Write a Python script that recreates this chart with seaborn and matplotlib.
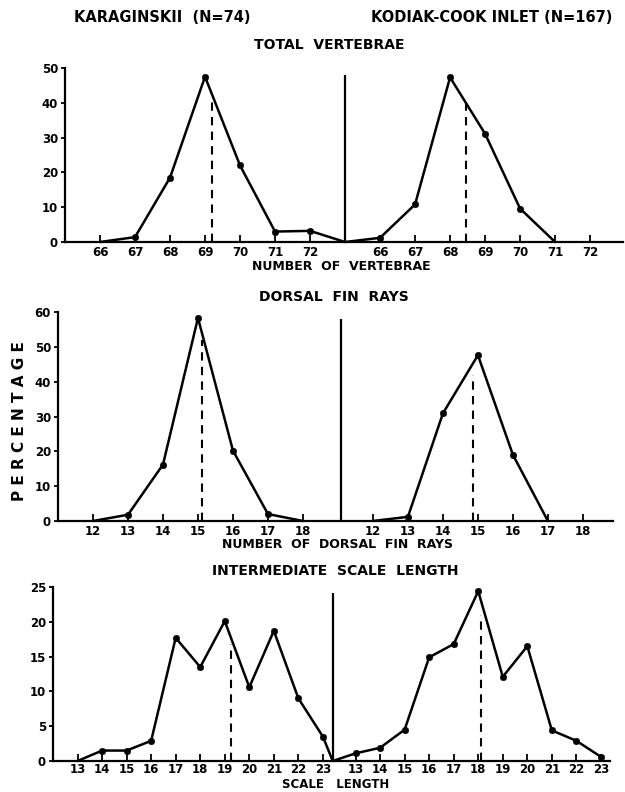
import numpy as np
import pandas as pd
import matplotlib
matplotlib.use("Agg")
import matplotlib.pyplot as plt
import seaborn as sns

# ---- data (percent of fish) ----
vert_ticks = [66, 67, 68, 69, 70, 71, 72]
vert_kar = [0, 1.4, 18.5, 47.5, 22.0, 3.0, 3.2]
vert_kod = [1.2, 10.8, 47.3, 31.1, 9.6, 0]          # 66..71
vert_means = [69.2, 68.45]
vert_mean_tops = [40.5, 40.0]

dors_ticks = [12, 13, 14, 15, 16, 17, 18]
dors_kar = [0, 1.8, 16.2, 58.3, 20.2, 2.0, 0]
dors_kod = [0, 1.2, 30.9, 47.6, 19.0, 0]             # 12..17
dors_means = [15.12, 14.85]
dors_mean_tops = [52.0, 42.0]

scale_ticks = [13, 14, 15, 16, 17, 18, 19, 20, 21, 22, 23]
scale_kar = [0, 1.5, 1.5, 2.9, 17.7, 13.5, 20.1, 10.6, 18.7, 9.0, 3.5]
scale_kod = [1.1, 1.9, 4.5, 14.9, 16.8, 24.4, 12.1, 16.5, 4.4, 2.9, 0.6]
scale_means = [19.25, 18.1]
scale_mean_tops = [16.8, 21.0]

sns.set_style("ticks")
plt.rcParams["font.family"] = ["DejaVu Sans"]
plt.rcParams["font.weight"] = "bold"
for k in ["text.color", "axes.labelcolor", "xtick.color", "ytick.color", "axes.edgecolor"]:
    plt.rcParams[k] = "black"

W, H = 625, 792
fig = plt.figure(figsize=(W / 100, H / 100), dpi=100)


def rect(x0, x1, ytop, ybot):
    return [x0 / W, (H - ybot) / H, (x1 - x0) / W, (ybot - ytop) / H]


panels = [
    dict(rect=rect(65, 623, 68, 242), xlim=15.94, ylim=50, yticks=range(0, 51, 10),
         ticks=vert_ticks, kar=vert_kar, kod=vert_kod, means=vert_means, tops=vert_mean_tops,
         off_l=65, off_r=57, div=8.0, div_top=48, connect=True, pad=3),
    dict(rect=rect(58, 613, 312, 521), xlim=15.86, ylim=60, yticks=range(0, 61, 10),
         ticks=dors_ticks, kar=dors_kar, kod=dors_kod, means=dors_means, tops=dors_mean_tops,
         off_l=11, off_r=3, div=8.1, div_top=58, connect=False, pad=3),
    dict(rect=rect(53, 610, 587, 761), xlim=22.7, ylim=25, yticks=range(0, 26, 5),
         ticks=scale_ticks, kar=scale_kar, kod=scale_kod, means=scale_means, tops=scale_mean_tops,
         off_l=12, off_r=0.67, div=11.4, div_top=24.2, connect=True, pad=1.5),
]

for p in panels:
    ax = fig.add_axes(p["rect"])
    t = np.array(p["ticks"], dtype=float)
    lx = t[:len(p["kar"])] - p["off_l"]
    rx = t[:len(p["kod"])] - p["off_r"]
    ly = np.array(p["kar"])
    ry = np.array(p["kod"])

    if p["connect"]:
        segs = [(np.concatenate([lx, [p["div"]], rx]), np.concatenate([ly, [0], ry]))]
    else:
        segs = [(lx, ly), (rx, ry)]
    for xs, ys in segs:
        df = pd.DataFrame({"x": xs, "y": ys})
        sns.lineplot(data=df, x="x", y="y", ax=ax, sort=False, estimator=None,
                     color="black", linewidth=1.8, clip_on=False)

    pts = pd.DataFrame({"x": np.concatenate([lx, rx]), "y": np.concatenate([ly, ry])})
    pts = pts[pts["y"] > 0]
    sns.scatterplot(data=pts, x="x", y="y", ax=ax, color="black", s=22,
                    edgecolor="black", zorder=5, clip_on=False)

    # divider between the two samples
    ax.vlines(p["div"], 0, p["div_top"], color="black", linewidth=1.6)
    # mean lines
    mpos = [p["means"][0] - p["off_l"], p["means"][1] - p["off_r"]]
    ax.vlines(mpos, 0, p["tops"], color="black", linewidth=1.5,
              linestyles=(0, (4, 3)))

    ax.set_xlim(0, p["xlim"])
    ax.set_ylim(0, p["ylim"])
    xt = np.concatenate([t - p["off_l"], t - p["off_r"]])
    ax.set_xticks(xt)
    ax.set_xticklabels([str(int(v)) for v in np.concatenate([t, t])],
                       fontsize=8.5, fontweight="bold")
    ax.set_yticks(list(p["yticks"]))
    ax.set_yticklabels([str(v) for v in p["yticks"]], fontsize=8.5, fontweight="bold")
    ax.tick_params(axis="x", direction="in", length=5, width=1.3, pad=p["pad"])
    ax.tick_params(axis="y", direction="out", length=3, width=1.3, pad=2)
    ax.set_xlabel("")
    ax.set_ylabel("")
    for s in ["left", "bottom"]:
        ax.spines[s].set_linewidth(1.6)
    sns.despine(ax=ax)

txt = dict(ha="center", va="center", fontweight="bold", color="black")
fig.text(162 / W, 1 - 17 / H, "KARAGINSKII  (N=74)", fontsize=10.5, **txt)
fig.text(492 / W, 1 - 18 / H, "KODIAK-COOK INLET (N=167)", fontsize=10.5, **txt)
fig.text(329 / W, 1 - 45 / H, "TOTAL  VERTEBRAE", fontsize=10, **txt)
fig.text(341 / W, 1 - 267 / H, "NUMBER  OF  VERTEBRAE", fontsize=9, **txt)
fig.text(334 / W, 1 - 297 / H, "DORSAL  FIN  RAYS", fontsize=10, **txt)
fig.text(338 / W, 1 - 544 / H, "NUMBER  OF  DORSAL  FIN  RAYS", fontsize=9, **txt)
fig.text(335 / W, 1 - 571 / H, "INTERMEDIATE  SCALE  LENGTH", fontsize=10, **txt)
fig.text(336 / W, 1 - 785 / H, "SCALE   LENGTH", fontsize=8.5, **txt)
fig.text(20 / W, 1 - 421 / H, "P E R C E N T A G E", fontsize=11, rotation=90, **txt)

fig.savefig("out.png", dpi=100, facecolor="white")
